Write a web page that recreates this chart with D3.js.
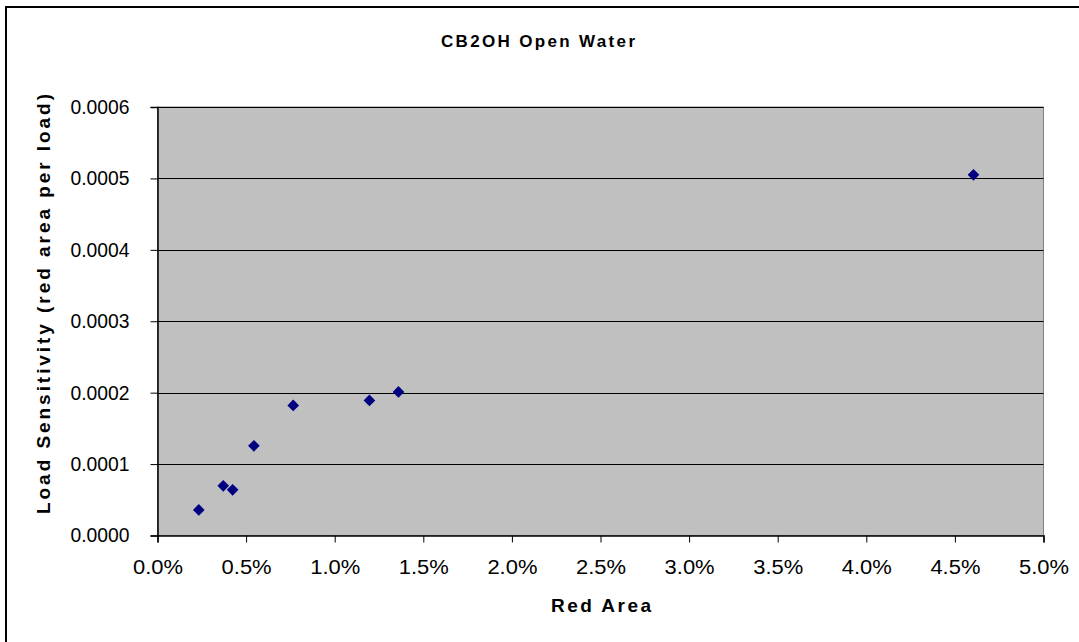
<!DOCTYPE html>
<html>
<head>
<meta charset="utf-8">
<script src="https://cdn.jsdelivr.net/npm/d3@7"></script>
<style>
  body { margin: 0; background: #fff; }
  text { font-family: Arial, "Liberation Sans", sans-serif; }
</style>
</head>
<body>
<div id="chart"></div>
<script>
// red area (fraction) vs load sensitivity
var redArea = [0.00233, 0.00371, 0.00424, 0.00544, 0.00766, 0.01196, 0.0136, 0.04605];
var sensitivity = [0.0000358, 0.0000695, 0.0000639, 0.0001256, 0.0001822, 0.0001892, 0.000201, 0.000505];
var xTicks = [0, 0.005, 0.01, 0.015, 0.02, 0.025, 0.03, 0.035, 0.04, 0.045, 0.05];
var yTicks = [0, 0.0001, 0.0002, 0.0003, 0.0004, 0.0005, 0.0006];

var W = 1079, H = 642;
var plotL = 157.5, plotR = 1043.5, plotT = 107, plotB = 535.5;

var svg = d3.select('#chart').append('svg')
    .attr('width', W)
    .attr('height', H);

// outer chart border (runs off the bottom/right of the picture)
svg.append('rect')
    .attr('x', 6).attr('y', 7)
    .attr('width', W + 10).attr('height', H + 10)
    .attr('fill', '#fff')
    .attr('stroke', '#000')
    .attr('stroke-width', 2);

var x = d3.scaleLinear().domain([0, 0.05]).range([plotL, plotR]);
var y = d3.scaleLinear().domain([0, 0.0006]).range([plotB, plotT]);

// plot area
svg.append('rect')
    .attr('x', plotL).attr('y', plotT)
    .attr('width', plotR - plotL).attr('height', plotB - plotT)
    .attr('fill', '#c0c0c0')
    .attr('stroke', '#808080')
    .attr('stroke-width', 1);

// gridlines
svg.append('g').selectAll('line')
    .data(yTicks.slice(1))
    .enter().append('line')
    .attr('x1', plotL).attr('x2', plotR)
    .attr('y1', function(d){ return Math.round(y(d)) + 0.5; })
    .attr('y2', function(d){ return Math.round(y(d)) + 0.5; })
    .attr('stroke', '#000')
    .attr('stroke-width', 1);

// axes
var yAxis = d3.axisLeft(y)
    .tickValues(yTicks)
    .tickSize(7)
    .tickPadding(21)
    .tickFormat(d3.format('.4f'));
var gy = svg.append('g')
    .attr('transform', 'translate(' + plotL + ',0)')
    .call(yAxis);

var xAxis = d3.axisBottom(x)
    .tickValues(xTicks)
    .tickSize(7)
    .tickPadding(17)
    .tickFormat(d3.format('.1%'));
var gx = svg.append('g')
    .attr('transform', 'translate(0,' + plotB + ')')
    .call(xAxis);

[gx, gy].forEach(function(g){
    g.attr('font-size', 20).attr('font-family', null);
    g.select('.domain').attr('stroke', '#000').attr('stroke-width', 1.5);
    g.selectAll('.tick line').attr('stroke', '#000');
    g.selectAll('.tick text')
        .attr('fill', '#000')
        .attr('lengthAdjust', 'spacingAndGlyphs');
});
gy.selectAll('.tick text').attr('textLength', 59);
gx.selectAll('.tick text').attr('textLength', 50);

// points
svg.append('g').selectAll('path')
    .data(redArea)
    .enter().append('path')
    .attr('d', d3.symbol().type(d3.symbolSquare).size(68))
    .attr('transform', function(d, i){
        return 'translate(' + x(d) + ',' + y(sensitivity[i]) + ') rotate(45)';
    })
    .attr('fill', '#000080');

// titles
svg.append('text')
    .attr('x', 538).attr('y', 47)
    .attr('text-anchor', 'middle')
    .attr('textLength', 194)
    .attr('font-size', 17)
    .attr('font-weight', 'bold')
    .text('CB2OH Open Water');

svg.append('text')
    .attr('x', 601).attr('y', 612)
    .attr('text-anchor', 'middle')
    .attr('textLength', 100)
    .attr('font-size', 19)
    .attr('font-weight', 'bold')
    .text('Red Area');

svg.append('text')
    .attr('transform', 'translate(50,304) rotate(-90)')
    .attr('text-anchor', 'middle')
    .attr('textLength', 420)
    .attr('font-size', 19)
    .attr('font-weight', 'bold')
    .text('Load Sensitivity (red area per load)');
</script>
</body>
</html>
